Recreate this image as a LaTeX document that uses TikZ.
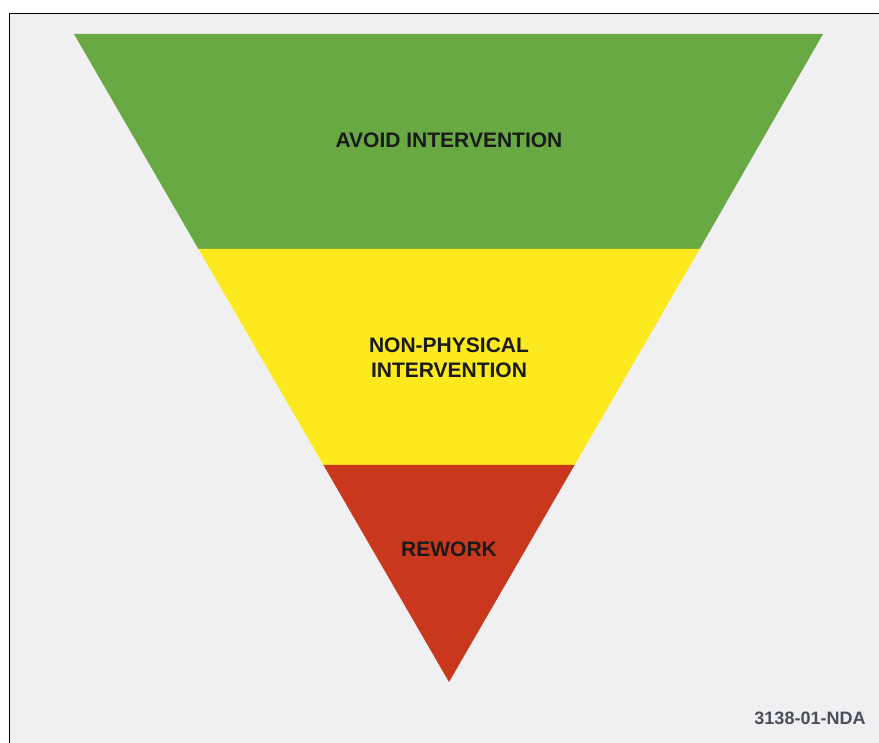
\documentclass[tikz,border=0pt]{standalone}
\usepackage{fontspec}
\setmainfont{Liberation Sans}
\definecolor{bgg}{HTML}{F0F0F2}
\definecolor{grn}{HTML}{68A944}
\definecolor{ylw}{HTML}{FCEA1F}
\definecolor{rd}{HTML}{C9381D}
\definecolor{txt}{HTML}{1A1A1A}
\definecolor{lbl}{HTML}{4A4F5A}
\begin{document}
\begin{tikzpicture}[x=1pt,y=-1pt,
  bandlabel/.style={font=\bfseries\fontsize{21}{25}\selectfont, text=txt, align=center, inner sep=0pt},
  band/.style={draw=none}]
\useasboundingbox (0,0) rectangle (879,743);
\fill[white] (0,0) rectangle (879,743);
\fill[bgg] (9.5,13.5) rectangle (879,743);
\draw[black, line width=1.5pt] (9.5,743) -- (9.5,13.5) -- (879,13.5);
% funnel bands
\coordinate (tl) at (74,34);
\coordinate (tr) at (823,34);
\coordinate (gl) at (198.4,249);
\coordinate (gr) at (699.6,249);
\coordinate (yl) at (323.4,465);
\coordinate (yr) at (574.6,465);
\coordinate (ap) at (449,682);
\fill[grn] (tl) -- (tr) -- (gr) -- (gl) -- cycle;
\fill[ylw] (gl) -- (gr) -- (yr) -- (yl) -- cycle;
\fill[rd] (yl) -- (yr) -- (ap) -- cycle;
\node[bandlabel] (avoid) at (449,140) {AVOID INTERVENTION};
\node[bandlabel] (nonph) at (449,358) {NON-PHYSICAL\\INTERVENTION};
\node[bandlabel] (rework) at (449,549) {REWORK};
\node[font=\bfseries\fontsize{18}{20}\selectfont, text=lbl, inner sep=0pt] (code) at (810,718) {3138-01-NDA};
\end{tikzpicture}
\end{document}
